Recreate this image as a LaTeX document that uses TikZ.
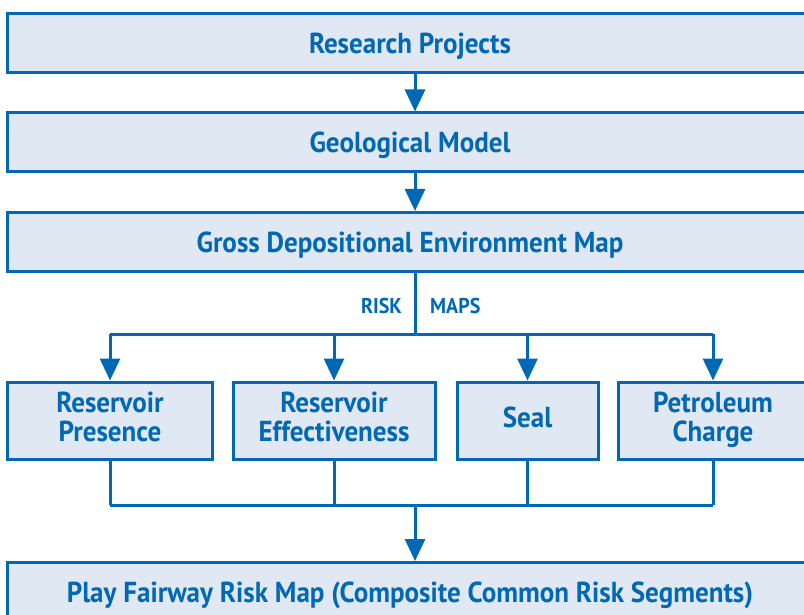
\documentclass[tikz,border=0pt]{standalone}
\usepackage{fontspec}
\setmainfont{PT Sans}[FakeStretch=0.935]
\usetikzlibrary{arrows.meta}
\definecolor{lineblue}{HTML}{0068B4}
\definecolor{boxfill}{HTML}{E0E8F4}
\newcommand\bxstrut{\rule[-7bp]{0pt}{34bp}}
\newcommand\bxstart{\lineskiplimit=-60pt\relax\bxstrut}
\newcommand\smstart{\lineskiplimit=-60pt\relax\rule[-7bp]{0pt}{40bp}}
\begin{document}
\begin{tikzpicture}[x=1bp,y=-1bp,
  box/.style={draw=lineblue, fill=boxfill, line width=3bp, inner sep=0pt,
    text=lineblue, font=\fontsize{29}{29}\selectfont\bfseries, align=center,
    execute at begin node=\bxstart, execute at end node=\bxstrut},
  widebox/.style={box, minimum width=804bp, minimum height=59bp},
  smallbox/.style={box, minimum height=77bp, execute at begin node=\smstart},
  conn/.style={draw=lineblue, line width=3bp},
  arr/.style={conn, -{Triangle[width=20bp,length=22bp]}},
  lbl/.style={text=lineblue, font=\fontsize{21.5}{23}\selectfont\bfseries, inner sep=0pt}
]
\useasboundingbox (0,0) rectangle (804,615);
\clip (0,0) rectangle (804,615);
\fill[white] (0,0) rectangle (804,615);

\node[widebox] (rp) at (410,43.5) {Research Projects};
\node[widebox] (gm) at (410,142.5) {Geological Model};
\node[widebox] (gd) at (410,242) {Gross Depositional Environment Map};

\coordinate (spine) at (415,0);
\coordinate (bar) at (0,334);
\coordinate (bar2) at (0,505);

\node[smallbox, minimum width=204bp] (rpres) at (110,420.5) {Reservoir\\Presence};
\node[smallbox, minimum width=202bp] (reff) at (334,420.5) {Reservoir\\Effectiveness};
\node[smallbox, minimum width=141bp] (seal) at (527.5,420.5) {\raisebox{6bp}{Seal}};
\node[smallbox, minimum width=190bp] (pc) at (713,420.5) {Petroleum\\Charge};

\node[widebox] (pf) at (410,592) {Play Fairway Risk Map (Composite Common Risk Segments)};

\draw[arr] (rp.south -| spine) -- (gm.north -| spine);
\draw[arr] (gm.south -| spine) -- (gd.north -| spine);
\draw[conn] (gd.south -| spine) -- (spine |- bar);
\draw[conn] (rpres |- bar) -- (pc |- bar);
\foreach \n in {rpres,reff,seal,pc}{
  \draw[arr] (\n |- bar) -- (\n.north);
  \draw[conn] (\n.south) -- (\n |- bar2);
}
\draw[conn] (rpres |- bar2) -- (pc |- bar2);
\draw[arr] (spine |- bar2) -- (pf.north -| spine);

\node[lbl, anchor=east] (risk) at (402,306) {RISK};
\node[lbl, anchor=west] (maps) at (430,306) {MAPS};
\end{tikzpicture}
\end{document}
